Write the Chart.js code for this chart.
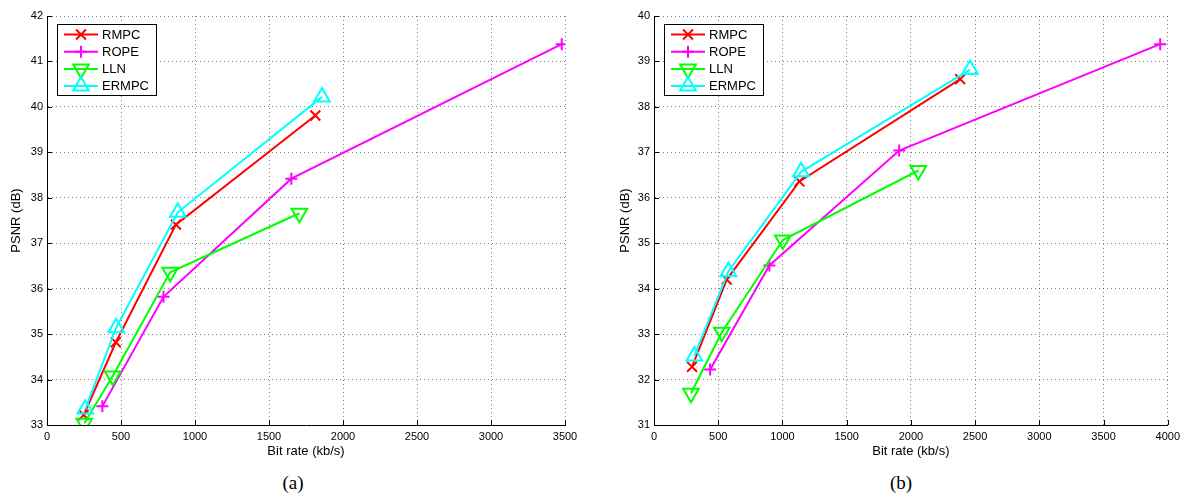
<!DOCTYPE html>
<html>
<head>
<meta charset="utf-8">
<script src="https://cdn.jsdelivr.net/npm/chart.js@4.4.1/dist/chart.umd.min.js"></script>
<style>
  body { margin: 0; background: #fff; width: 1185px; height: 498px; position: relative; overflow: hidden; }
  .box { position: absolute; top: 0; }
  .cap { position: absolute; top: 472px; width: 60px; text-align: center; font-family: "Liberation Serif", "DejaVu Serif", serif; font-size: 19px; color: #000; }
</style>
</head>
<body>
<div class="box" style="left:0px;"><canvas id="chartA" width="590" height="465"></canvas></div>
<div class="box" style="left:608px;"><canvas id="chartB" width="577" height="465"></canvas></div>
<div class="cap" style="left:263px;">(a)</div>
<div class="cap" style="left:871px;">(b)</div>
<script>
// series names
const names = ['RMPC', 'ROPE', 'LLN', 'ERMPC'];

// (a) bit rate (kb/s) / PSNR (dB)
const xRmpcA = [248, 465, 871, 1813];
const yRmpcA = [33.22, 34.82, 37.41, 39.81];
const xRopeA = [374, 787, 1651, 3478];
const yRopeA = [33.41, 35.82, 38.42, 41.38];
const xLlnA = [252, 444, 832, 1705];
const yLlnA = [33.04, 34.08, 36.36, 37.66];
const xErmpcA = [259, 467, 884, 1858];
const yErmpcA = [33.35, 35.14, 37.68, 40.22];

// (b)
const xRmpcB = [296, 566, 1132, 2384];
const yRmpcB = [32.28, 34.2, 36.36, 38.61];
const xRopeB = [437, 898, 1909, 3941];
const yRopeB = [32.22, 34.51, 37.04, 39.38];
const xLlnB = [288, 528, 1003, 2058];
const yLlnB = [31.7, 33.04, 35.07, 36.6];
const xErmpcB = [314, 579, 1145, 2461];
const yErmpcB = [32.52, 34.38, 36.57, 38.82];

// axis ticks
const xTicksA = [0, 500, 1000, 1500, 2000, 2500, 3000, 3500];
const yTicksA = [33, 34, 35, 36, 37, 38, 39, 40, 41, 42];
const xTicksB = [0, 500, 1000, 1500, 2000, 2500, 3000, 3500, 4000];
const yTicksB = [31, 32, 33, 34, 35, 36, 37, 38, 39, 40];

const styles = [
  { color: '#ff0000', pointStyle: 'crossRot', radius: 7, rotation: 0, order: 4 },
  { color: '#ff00ff', pointStyle: 'cross', radius: 6, rotation: 0, order: 3 },
  { color: '#00ff00', pointStyle: 'triangle', radius: 9, rotation: 180, order: 2 },
  { color: '#00ffff', pointStyle: 'triangle', radius: 9, rotation: 0, order: 1 }
];

const fontFam = '"Liberation Sans", Arial, sans-serif';

function pts(xs, ys) {
  return xs.map(function (x, i) { return { x: x, y: ys[i] }; });
}

function makeDatasets(series) {
  return series.map(function (s, i) {
    const st = styles[i];
    return {
      label: names[i],
      data: pts(s[0], s[1]),
      showLine: true,
      borderColor: st.color,
      backgroundColor: 'rgba(0,0,0,0)',
      borderWidth: 2,
      pointStyle: st.pointStyle,
      pointRadius: st.radius,
      pointRotation: st.rotation,
      pointBorderWidth: 2,
      pointBorderColor: st.color,
      pointBackgroundColor: 'rgba(0,0,0,0)',
      order: st.order
    };
  });
}

// matlab-like boxed legend inside the plot + inward tick marks
const boxLegend = {
  id: 'boxLegend',
  afterDraw: function (chart) {
    const ctx = chart.ctx;
    const a = chart.chartArea;
    const x0 = a.left + 10.5, y0 = a.top + 8.5;
    ctx.save();
    // inward ticks
    ctx.strokeStyle = '#000';
    ctx.lineWidth = 1;
    ctx.beginPath();
    chart.scales.y.ticks.forEach(function (t) {
      const py = Math.round(chart.scales.y.getPixelForValue(t.value)) + 0.5;
      ctx.moveTo(a.left, py); ctx.lineTo(a.left + 5, py);
    });
    chart.scales.x.ticks.forEach(function (t) {
      const px = Math.round(chart.scales.x.getPixelForValue(t.value)) + 0.5;
      ctx.moveTo(px, a.bottom); ctx.lineTo(px, a.bottom - 5);
    });
    ctx.stroke();
    // legend box
    ctx.fillStyle = '#fff';
    ctx.fillRect(x0, y0, 99, 71);
    ctx.strokeStyle = '#000';
    ctx.lineWidth = 1;
    ctx.strokeRect(x0, y0, 99, 71);
    ctx.font = '13px ' + fontFam;
    ctx.textBaseline = 'middle';
    ctx.textAlign = 'left';
    chart.data.datasets.forEach(function (ds, i) {
      const st = styles[i];
      const ry = y0 + 10 + i * 17.2;
      ctx.strokeStyle = st.color;
      ctx.lineWidth = 2;
      ctx.beginPath();
      ctx.moveTo(x0 + 6.5, ry); ctx.lineTo(x0 + 40.5, ry);
      ctx.stroke();
      ctx.fillStyle = 'rgba(0,0,0,0)';
      Chart.helpers.drawPoint(ctx, { pointStyle: st.pointStyle, radius: st.radius, rotation: st.rotation, borderWidth: 2 }, x0 + 23.5, ry);
      ctx.fillStyle = '#000';
      ctx.fillText(ds.label, x0 + 44.5, ry + 0.5);
    });
    ctx.restore();
  }
};

function plainLabel(value) {
  return String(value);
}

function buildChart(id, series, xMax, yMin, yMax, xTicks, yTicks, padRight, yWidth, yTitlePad) {
  const ctx = document.getElementById(id).getContext('2d');
  return new Chart(ctx, {
    type: 'scatter',
    data: { datasets: makeDatasets(series) },
    options: {
      responsive: false,
      animation: false,
      devicePixelRatio: 1,
      layout: { padding: { left: 0, top: 16, right: padRight, bottom: 0 } },
      plugins: { legend: { display: false }, tooltip: { enabled: false } },
      scales: {
        x: {
          type: 'linear',
          min: 0,
          max: xMax,
          afterBuildTicks: function (scale) { scale.ticks = xTicks.map(function (v) { return { value: v }; }); },
          afterFit: function (scale) { scale.height = 40; },
          ticks: { color: '#000', font: { family: fontFam, size: 11 }, padding: 5, maxRotation: 0, autoSkip: false, callback: plainLabel },
          grid: { color: 'rgba(0,0,0,0.5)', drawTicks: false, lineWidth: 1 },
          border: { display: true, color: '#000', width: 1, dash: [1, 3] },
          title: { display: true, text: 'Bit rate (kb/s)', color: '#000', font: { family: fontFam, size: 13 }, padding: { top: 0, bottom: 6 } }
        },
        y: {
          type: 'linear',
          min: yMin,
          max: yMax,
          afterBuildTicks: function (scale) { scale.ticks = yTicks.map(function (v) { return { value: v }; }); },
          afterFit: function (scale) { scale.width = yWidth; },
          ticks: { color: '#000', font: { family: fontFam, size: 11 }, padding: 4, autoSkip: false, callback: plainLabel },
          grid: { color: 'rgba(0,0,0,0.5)', drawTicks: false, lineWidth: 1 },
          border: { display: true, color: '#000', width: 1, dash: [1, 3] },
          title: { display: true, text: 'PSNR (dB)', color: '#000', font: { family: fontFam, size: 13 }, padding: { top: yTitlePad, bottom: 0 } }
        }
      }
    },
    plugins: [boxLegend]
  });
}

buildChart('chartA',
  [[xRmpcA, yRmpcA], [xRopeA, yRopeA], [xLlnA, yLlnA], [xErmpcA, yErmpcA]],
  3500, 33, 42, xTicksA, yTicksA, 25, 47, 9);

buildChart('chartB',
  [[xRmpcB, yRmpcB], [xRopeB, yRopeB], [xLlnB, yLlnB], [xErmpcB, yErmpcB]],
  4000, 31, 40, xTicksB, yTicksB, 12, 46, 10);
</script>
</body>
</html>
